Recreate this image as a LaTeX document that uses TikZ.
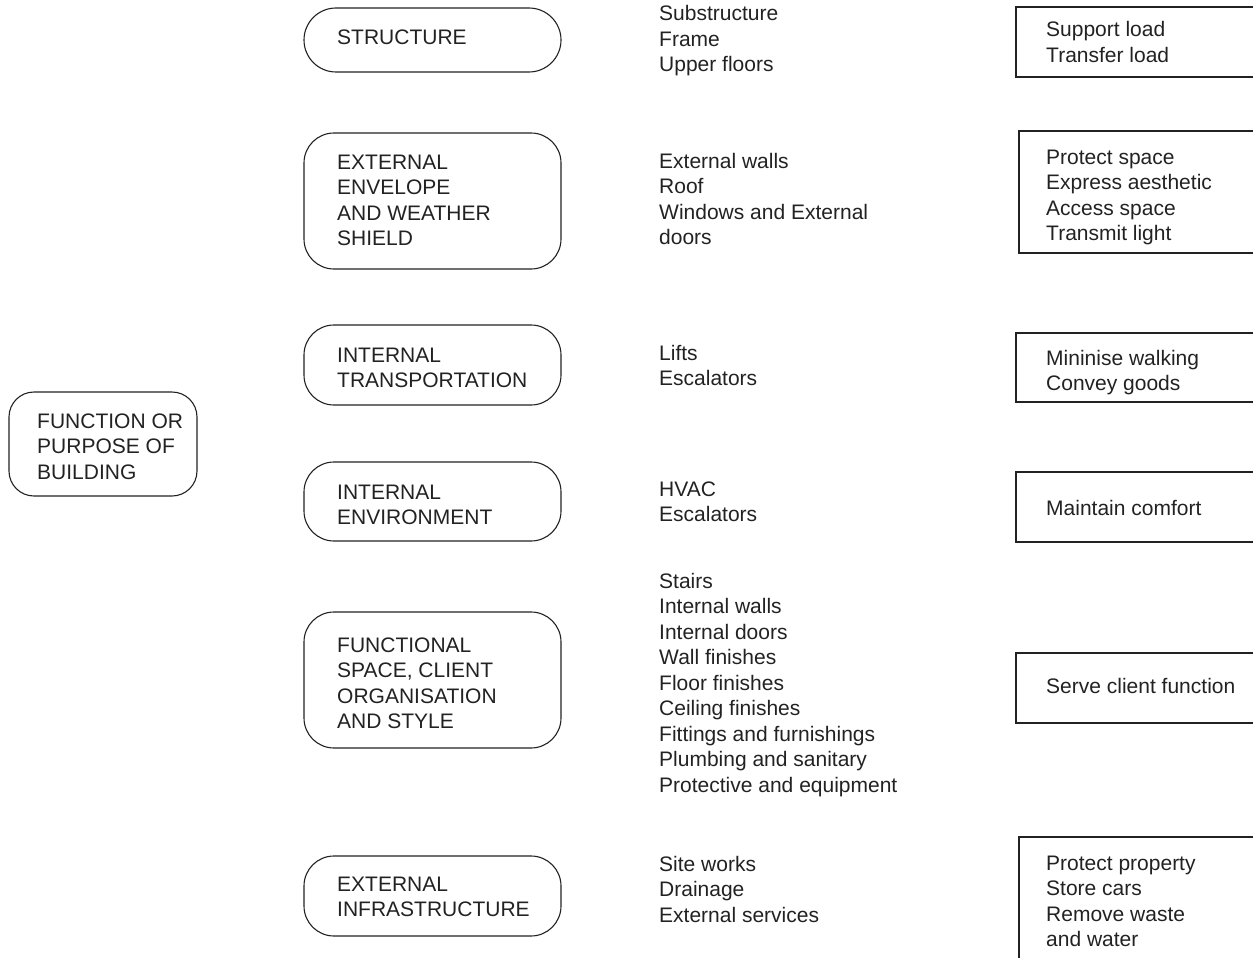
\documentclass[tikz,border=0pt]{standalone}
\usepackage{fontspec}
\setmainfont{Liberation Sans}
\definecolor{ink}{HTML}{222222}
\tikzset{
  txt/.style={anchor=base west, inner sep=0pt, font=\fontsize{21}{25}\selectfont, text=ink},
  rbox/.style={draw=ink, line width=1.1pt, rounded corners=30pt},
  sbox/.style={draw=ink, line width=1.1pt}
}
\newcommand\txtlines[3]{\foreach \t [count=\i from 0] in {#3} {\node[txt] at (#1, {-(#2) - \i*25.5}) {\t};}}
\begin{document}
\begin{tikzpicture}[x=1pt,y=1pt]
\clip (0,0) rectangle (1253,-958);
% left box
\draw[rbox, rounded corners=25pt] (9,-392) rectangle (197,-496);
\txtlines{37}{428}{FUNCTION OR,PURPOSE OF,BUILDING}
% category boxes
\draw[rbox, rounded corners=32pt] (304,-8) rectangle (561,-72);
\txtlines{337}{45}{STRUCTURE}
\draw[rbox] (304,-133) rectangle (561,-269);
\txtlines{337}{169}{EXTERNAL,ENVELOPE,AND WEATHER,SHIELD}
\draw[rbox] (304,-325) rectangle (561,-405);
\txtlines{337}{362}{INTERNAL,TRANSPORTATION}
\draw[rbox] (304,-462) rectangle (561,-541);
\txtlines{337}{499}{INTERNAL,ENVIRONMENT}
\draw[rbox] (304,-612) rectangle (561,-748);
\txtlines{337}{652}{FUNCTIONAL,{SPACE, CLIENT},ORGANISATION,AND STYLE}
\draw[rbox] (304,-856) rectangle (561,-936);
\txtlines{337}{891}{EXTERNAL,INFRASTRUCTURE}
% element lists
\txtlines{659}{21}{Substructure,Frame,Upper floors}
\txtlines{659}{168}{External walls,Roof,Windows and External,doors}
\txtlines{659}{360}{Lifts,Escalators}
\txtlines{659}{496}{HVAC,Escalators}
\txtlines{659}{588}{Stairs,Internal walls,Internal doors,Wall finishes,Floor finishes,Ceiling finishes,Fittings and furnishings,Plumbing and sanitary,Protective and equipment}
\txtlines{659}{871}{Site works,Drainage,External services}
% function boxes
\draw[sbox] (1270,-7) -- (1016,-7) -- (1016,-77) -- (1270,-77);
\txtlines{1046}{37}{Support load,Transfer load}
\draw[sbox] (1270,-131) -- (1019,-131) -- (1019,-253) -- (1270,-253);
\txtlines{1046}{164}{Protect space,Express aesthetic,Access space,Transmit light}
\draw[sbox] (1270,-333) -- (1016,-333) -- (1016,-402) -- (1270,-402);
\txtlines{1046}{365}{Mininise walking,Convey goods}
\draw[sbox] (1270,-472) -- (1016,-472) -- (1016,-542) -- (1270,-542);
\txtlines{1046}{515}{Maintain comfort}
\draw[sbox] (1270,-653) -- (1016,-653) -- (1016,-723) -- (1270,-723);
\txtlines{1046}{693}{Serve client function}
\draw[sbox] (1270,-837) -- (1019,-837) -- (1019,-970);
\txtlines{1046}{870}{Protect property,Store cars,Remove waste,and water}
\end{tikzpicture}
\end{document}
